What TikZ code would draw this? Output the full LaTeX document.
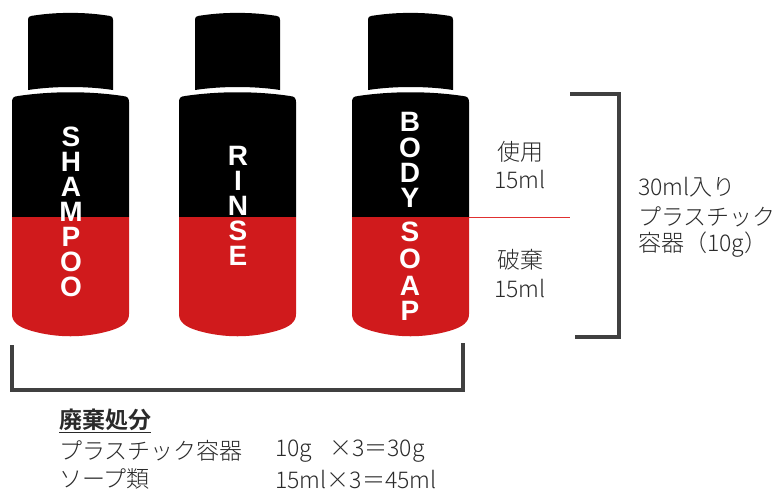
\documentclass[tikz,border=0pt]{standalone}
\usepackage{fontspec}
\setmainfont{Liberation Sans}
\newfontfamily\jpfont{Noto Sans CJK JP Light}
\newfontfamily\jpbold{Noto Sans CJK JP Bold}
\definecolor{bottlered}{HTML}{D01A1C}
\definecolor{bracketgray}{HTML}{404040}
\definecolor{textgray}{HTML}{2A2A2A}
\definecolor{splitred}{HTML}{E03030}
\tikzset{
  bottle/.pic={
    % cap
    \fill[black] (16,90) -- (16,20) .. controls (16,16.5) and (18,16) .. (22,15.5)
      .. controls (45,12) and (72,12) .. (95,15.5) .. controls (99,16) and (101,16.5) .. (101,20)
      -- (101,90) .. controls (75,86) and (42,86) .. (16,90) -- cycle;
    % upper (used) half of the body
    \fill[black] (0,217) -- (0,102) .. controls (0,97.5) and (2,96.5) .. (6,96)
      .. controls (40,91) and (77,91) .. (111,96) .. controls (115,96.5) and (117,97.5) .. (117,102)
      -- (117,217) -- cycle;
    % lower (discarded) half of the body
    \fill[bottlered] (0,217) -- (0,314) .. controls (0,322) and (6,327) .. (20,331)
      .. controls (45,338) and (72,338) .. (97,331) .. controls (111,327) and (117,322) .. (117,314)
      -- (117,217) -- cycle;
  },
  vlab/.style={text=white, inner sep=0pt, font=\bfseries\fontsize{28}{28}\selectfont},
  jp/.style={text=textgray, inner sep=0pt, font=\jpfont\fontsize{23}{27}\selectfont},
  brk/.style={draw=bracketgray, line width=3.2pt},
}
\begin{document}
\begin{tikzpicture}[x=1pt,y=-1pt]
\useasboundingbox (0,0) rectangle (781,491);

% three bottles
\pic (shampoo) at (12,0) {bottle};
\pic (rinse) at (179,0) {bottle};
\pic (soap) at (352,0) {bottle};

% vertical labels on the bottles
\foreach \l [count=\i] in {S,H,A,M,P,O,O}
  \node[vlab] (sh\i) at (71,{137+25*(\i-1)}) {\l};
\foreach \l [count=\i] in {R,I,N,S,E}
  \node[vlab] (ri\i) at (238,{156+25*(\i-1)}) {\l};
\foreach \l/\yy [count=\i] in {B/122,O/148,D/173,Y/198,S/232,O/259,A/286,P/311}
  \node[vlab] (bs\i) at (410,\yy) {\l};

% used / discarded split
\coordinate (splitL) at (469,217);
\coordinate (splitR) at (570,217);
\draw[splitred, line width=1pt] (splitL) -- (splitR);

\node[jp] (use) at (520,152) {使用};
\node[jp] (usevol) at (520,180) {15ml};
\node[jp] (waste) at (520,260) {破棄};
\node[jp] (wastevol) at (520,288) {15ml};

% bracket for one container
\coordinate (rb1) at (570,94);
\coordinate (rb2) at (619,94);
\coordinate (rb3) at (619,337);
\coordinate (rb4) at (575,337);
\draw[brk] (rb1) -- (rb2) -- (rb3) -- (rb4);

\node[jp, anchor=west] (cont1) at (638,187) {30ml入り};
\node[jp, anchor=west] (cont2) at (638,217) {プラスチック};
\node[jp, anchor=west] (cont3) at (638,245) {容器（10g）};

% bracket under all three bottles
\coordinate (bb1) at (12,345);
\coordinate (bb2) at (12,390);
\coordinate (bb3) at (463,390);
\coordinate (bb4) at (463,343);
\draw[brk] (bb1) -- (bb2) -- (bb3) -- (bb4);

% disposal summary
\node[jp, anchor=west, font=\jpbold\fontsize{23}{27}\selectfont] (sumhead) at (59,421) {\underline{廃棄処分}};
\node[jp, anchor=west] (row1a) at (59,451) {プラスチック容器};
\node[jp, anchor=west] (row1b) at (275,451) {10g};
\node[jp, anchor=west] (row1c) at (329,451) {×3＝30g};
\node[jp, anchor=west] (row2a) at (59,479) {ソープ類};
\node[jp, anchor=west] (row2b) at (275,479) {15ml×3＝45ml};
\end{tikzpicture}
\end{document}
